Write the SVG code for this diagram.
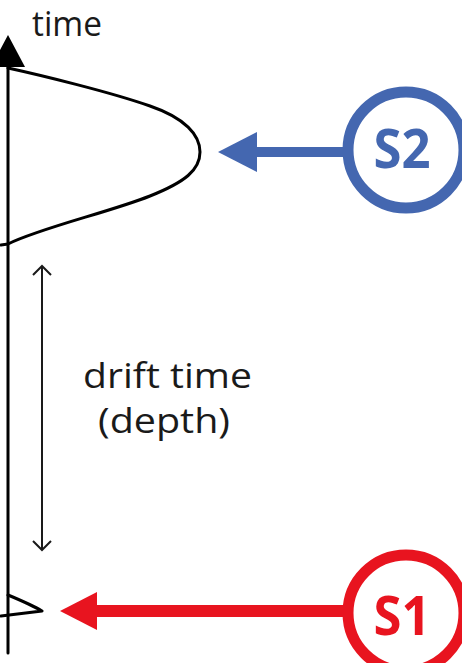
<svg xmlns="http://www.w3.org/2000/svg" width="462" height="663" viewBox="0 0 462 663">
  <style>
    .ink { fill: none; stroke: #000; stroke-width: 3; stroke-linejoin: round; stroke-linecap: round; }
    .thin { fill: none; stroke: #1a1a1a; stroke-width: 2; }
    .label { font-family: "Open Sans", "Liberation Sans", sans-serif; font-size: 35px; fill: #1a1a1a; }
    .badge-text { font-family: "Open Sans", "Liberation Sans", sans-serif; font-weight: bold; font-size: 54px; text-anchor: middle; }
    .blue { stroke: #4467b0; }
    .red { stroke: #e8141f; }
  </style>
  <defs>
    <marker id="chev" viewBox="0 0 20 20" refX="10" refY="10" markerWidth="20" markerHeight="20" markerUnits="userSpaceOnUse" orient="auto-start-reverse">
      <path d="M1,1 L10,10 L1,19" fill="none" stroke="#1a1a1a" stroke-width="2"/>
    </marker>
  </defs>
  <rect width="462" height="663" fill="#fff"/>

  <!-- time axis -->
  <g id="axis">
    <line class="ink" x1="8" y1="653" x2="8" y2="60" stroke-linecap="butt"/>
    <polygon points="8,35 25,67 -9,67" fill="#000"/>
    <text class="label" x="32" y="36" font-size="32" textLength="70" lengthAdjust="spacingAndGlyphs">time</text>
  </g>

  <!-- broad pulse (later arrival) -->
  <g id="pulse-s2">
    <path class="ink" d="M8,68 C40,75 110,92 150,106 C185,118 200,135 200,152 C200,170 185,182 150,196 C110,212 40,228 8,244 L1,245"/>
  </g>

  <!-- narrow pulse (early arrival) -->
  <g id="pulse-s1">
    <path class="ink" d="M8,595 C20,600 32,605 42,611 L1,616"/>
  </g>

  <!-- drift interval -->
  <g id="drift">
    <line class="thin" x1="42" y1="266" x2="42" y2="550" marker-start="url(#chev)" marker-end="url(#chev)"/>
    <text class="label" x="83" y="388" textLength="169" lengthAdjust="spacingAndGlyphs">drift time</text>
    <text class="label" x="98" y="433" textLength="132" lengthAdjust="spacingAndGlyphs">(depth)</text>
  </g>

  <!-- source badges -->
  <g id="s2">
    <circle cx="406" cy="150" r="58" fill="#fff" stroke="#4467b0" stroke-width="11"/>
    <text class="badge-text" x="402" y="168" fill="#4467b0" textLength="57" lengthAdjust="spacingAndGlyphs">S2</text>
  </g>
  <g id="s1">
    <circle cx="406" cy="613" r="58" fill="#fff" stroke="#e8141f" stroke-width="11"/>
    <text class="badge-text" x="402" y="635" fill="#e8141f" textLength="57" lengthAdjust="spacingAndGlyphs">S1</text>
  </g>

  <!-- connectors -->
  <g id="connectors">
    <line class="blue" x1="250" y1="152" x2="344" y2="152" stroke-width="10"/>
    <polygon points="218,152 257,132 257,172" fill="#4467b0"/>
    <line class="red" x1="90" y1="611" x2="344" y2="611" stroke-width="12"/>
    <polygon points="60,611 97,592 97,630" fill="#e8141f"/>
  </g>
</svg>
